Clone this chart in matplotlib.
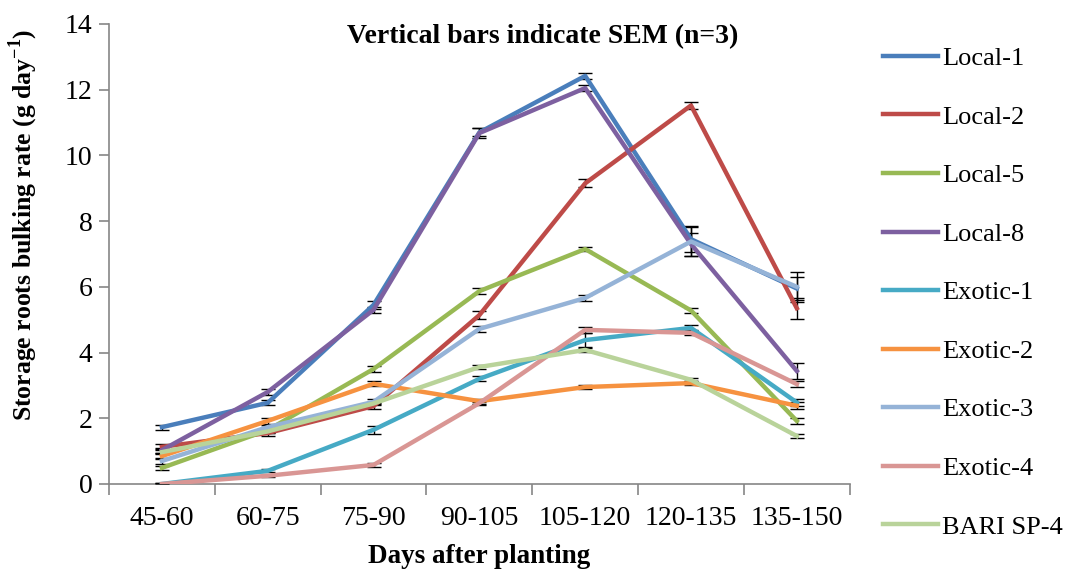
import matplotlib
matplotlib.use("Agg")
import matplotlib.pyplot as plt
import numpy as np

plt.rcParams['font.family'] = ['Liberation Serif', 'DejaVu Serif']
plt.rcParams['mathtext.fontset'] = 'custom'
plt.rcParams['mathtext.rm'] = 'Liberation Serif'
plt.rcParams['mathtext.bf'] = 'Liberation Serif:bold'

periods = ['45-60', '60-75', '75-90', '90-105', '105-120', '120-135', '135-150']
varieties = ['Local-1', 'Local-2', 'Local-5', 'Local-8', 'Exotic-1',
             'Exotic-2', 'Exotic-3', 'Exotic-4', 'BARI SP-4']

local_1 = [1.73, 2.47, 5.45, 10.70, 12.42, 7.45, 5.95]
local_2 = [1.13, 1.55, 2.37, 5.14, 9.15, 11.52, 5.35]
local_5 = [0.49, 1.64, 3.50, 5.87, 7.15, 5.28, 1.92]
local_8 = [1.03, 2.80, 5.30, 10.68, 12.05, 7.30, 3.44]
exotic_1 = [0.00, 0.40, 1.65, 3.20, 4.38, 4.75, 2.48]
exotic_2 = [0.85, 1.92, 3.05, 2.52, 2.95, 3.07, 2.38]
exotic_3 = [0.70, 1.73, 2.50, 4.72, 5.66, 7.38, 6.00]
exotic_4 = [0.00, 0.25, 0.58, 2.46, 4.69, 4.60, 3.04]
bari_sp4 = [0.97, 1.60, 2.45, 3.56, 4.08, 3.17, 1.46]

sem_local_1 = [0.08, 0.08, 0.12, 0.12, 0.10, 0.40, 0.35]
sem_local_2 = [0.08, 0.10, 0.08, 0.12, 0.12, 0.10, 0.32]
sem_local_5 = [0.05, 0.08, 0.08, 0.08, 0.05, 0.08, 0.10]
sem_local_8 = [0.08, 0.10, 0.10, 0.15, 0.08, 0.35, 0.25]
sem_exotic_1 = [0.02, 0.05, 0.12, 0.08, 0.20, 0.08, 0.10]
sem_exotic_2 = [0.08, 0.10, 0.08, 0.08, 0.05, 0.05, 0.10]
sem_exotic_3 = [0.08, 0.08, 0.08, 0.08, 0.08, 0.45, 0.45]
sem_exotic_4 = [0.02, 0.03, 0.05, 0.05, 0.10, 0.08, 0.08]
sem_bari_sp4 = [0.05, 0.05, 0.05, 0.05, 0.05, 0.05, 0.05]

series = [local_1, local_2, local_5, local_8, exotic_1,
          exotic_2, exotic_3, exotic_4, bari_sp4]
sems = [sem_local_1, sem_local_2, sem_local_5, sem_local_8, sem_exotic_1,
        sem_exotic_2, sem_exotic_3, sem_exotic_4, sem_bari_sp4]
colors = ['#4A7EBB', '#BE4B48', '#98B954', '#7D60A0', '#46AAC5',
          '#F69240', '#95B3D7', '#D99694', '#B9D39A']

fig = plt.figure(figsize=(10.66, 5.71), dpi=100)
ax = fig.add_axes([0.1023, 0.1524, 0.6948, 0.8056])

x = np.arange(len(periods))
for name, vals, err, col in zip(varieties, series, sems, colors):
    ax.errorbar(x, vals, yerr=err, color=col, lw=3.2, label=name,
                ecolor='black', elinewidth=1, capsize=5, capthick=1, zorder=3)

ax.set_xlim(-0.5, len(periods) - 0.5)
ax.set_ylim(0, 14)
ax.set_yticks(range(0, 15, 2))
ax.set_xticks(np.arange(-0.5, len(periods), 1.0))
ax.set_xticklabels([])
ax.set_xticks(x, minor=True)
ax.set_xticklabels(periods, minor=True)
ax.tick_params(axis='x', which='minor', length=0, pad=16, labelsize=20)
ax.tick_params(axis='x', which='major', length=8, color='#868686', width=1.2)
ax.tick_params(axis='y', length=7, color='#868686', width=1.2, labelsize=20, pad=5)

for s in ['top', 'right']:
    ax.spines[s].set_visible(False)
for s in ['left', 'bottom']:
    ax.spines[s].set_color('#868686')
    ax.spines[s].set_linewidth(1.2)

ax.set_xlabel('Days after planting', fontsize=19.5, fontweight='bold', labelpad=9)
ax.set_ylabel(r'Storage roots bulking rate (g day$^{\mathbf{-1}}$)', fontsize=18.5,
              fontweight='bold')
ax.yaxis.set_label_coords(-0.093, 0.563)
ax.set_title('Vertical bars indicate SEM (n=3)', fontsize=20, fontweight='bold',
             x=0.585, y=0.94)

handles, labels = ax.get_legend_handles_labels()
handles = [h[0] for h in handles]
fig.legend(handles, labels, loc='upper left', bbox_to_anchor=(0.806, 0.96),
           frameon=False, fontsize=19, handlelength=2.1, handletextpad=0.15,
           labelspacing=1.33)

fig.savefig('out.png', dpi=100)
